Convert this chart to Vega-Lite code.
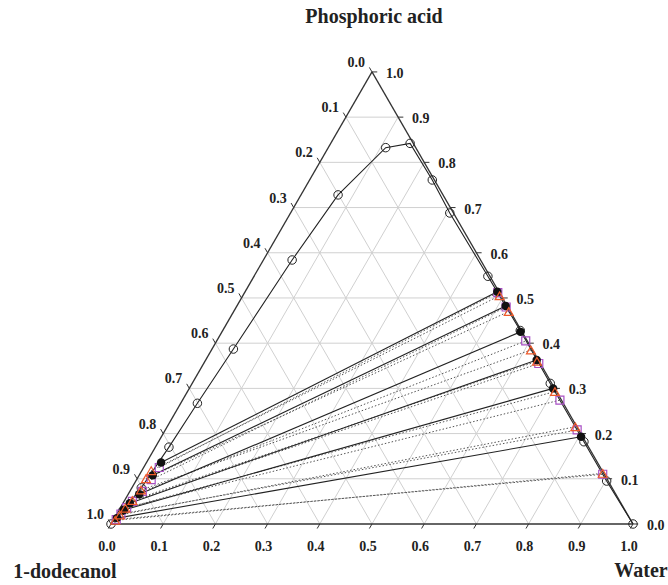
{
  "$schema": "https://vega.github.io/schema/vega-lite/v6.json",
  "width": 668,
  "height": 585,
  "autosize": "none",
  "padding": 0,
  "background": "white",
  "config": {"view": {"stroke": null}},
  "datasets": {
    "grid": [
      {"w1": 0, "a1": 0.1, "w2": 0.9, "a2": 0.1},
      {"w1": 0, "a1": 0.2, "w2": 0.8, "a2": 0.2},
      {"w1": 0, "a1": 0.3, "w2": 0.7, "a2": 0.3},
      {"w1": 0, "a1": 0.4, "w2": 0.6, "a2": 0.4},
      {"w1": 0, "a1": 0.5, "w2": 0.5, "a2": 0.5},
      {"w1": 0, "a1": 0.6, "w2": 0.4, "a2": 0.6},
      {"w1": 0, "a1": 0.7, "w2": 0.3, "a2": 0.7},
      {"w1": 0, "a1": 0.8, "w2": 0.2, "a2": 0.8},
      {"w1": 0, "a1": 0.9, "w2": 0.1, "a2": 0.9},
      {"w1": 0.1, "a1": 0, "w2": 0.1, "a2": 0.9},
      {"w1": 0.2, "a1": 0, "w2": 0.2, "a2": 0.8},
      {"w1": 0.3, "a1": 0, "w2": 0.3, "a2": 0.7},
      {"w1": 0.4, "a1": 0, "w2": 0.4, "a2": 0.6},
      {"w1": 0.5, "a1": 0, "w2": 0.5, "a2": 0.5},
      {"w1": 0.6, "a1": 0, "w2": 0.6, "a2": 0.4},
      {"w1": 0.7, "a1": 0, "w2": 0.7, "a2": 0.3},
      {"w1": 0.8, "a1": 0, "w2": 0.8, "a2": 0.2},
      {"w1": 0.9, "a1": 0, "w2": 0.9, "a2": 0.1},
      {"w1": 0.9, "a1": 0, "w2": 0, "a2": 0.9},
      {"w1": 0.8, "a1": 0, "w2": 0, "a2": 0.8},
      {"w1": 0.7, "a1": 0, "w2": 0, "a2": 0.7},
      {"w1": 0.6, "a1": 0, "w2": 0, "a2": 0.6},
      {"w1": 0.5, "a1": 0, "w2": 0, "a2": 0.5},
      {"w1": 0.4, "a1": 0, "w2": 0, "a2": 0.4},
      {"w1": 0.3, "a1": 0, "w2": 0, "a2": 0.3},
      {"w1": 0.2, "a1": 0, "w2": 0, "a2": 0.2},
      {"w1": 0.1, "a1": 0, "w2": 0, "a2": 0.1}
    ],
    "edges": [
      {"w1": 0, "a1": 0, "w2": 1, "a2": 0},
      {"w1": 1, "a1": 0, "w2": 0, "a2": 1},
      {"w1": 0, "a1": 1, "w2": 0, "a2": 0}
    ],
    "binodal": [
      {"o": 0, "w": 0.0, "a": 0.0},
      {"o": 1, "w": 0.008, "a": 0.03},
      {"o": 2, "w": 0.018, "a": 0.08},
      {"o": 3, "w": 0.026, "a": 0.170},
      {"o": 4, "w": 0.032, "a": 0.267},
      {"o": 5, "w": 0.041, "a": 0.387},
      {"o": 6, "w": 0.055, "a": 0.584},
      {"o": 7, "w": 0.071, "a": 0.728},
      {"o": 8, "w": 0.110, "a": 0.8325},
      {"o": 9, "w": 0.152, "a": 0.842},
      {"o": 10, "w": 0.235, "a": 0.761},
      {"o": 11, "w": 0.305, "a": 0.688},
      {"o": 12, "w": 0.448, "a": 0.548},
      {"o": 13, "w": 0.570, "a": 0.428},
      {"o": 14, "w": 0.686, "a": 0.311},
      {"o": 15, "w": 0.815, "a": 0.182},
      {"o": 16, "w": 0.902, "a": 0.095},
      {"o": 17, "w": 1.0, "a": 0.0}
    ],
    "exp": [
      {"w1": 0.028, "a1": 0.136, "w2": 0.483, "a2": 0.514},
      {"w1": 0.026, "a1": 0.108, "w2": 0.515, "a2": 0.482},
      {"w1": 0.021, "a1": 0.066, "w2": 0.572, "a2": 0.425},
      {"w1": 0.013, "a1": 0.046, "w2": 0.634, "a2": 0.363},
      {"w1": 0.009, "a1": 0.031, "w2": 0.697, "a2": 0.300},
      {"w1": 0.005, "a1": 0.013, "w2": 0.804, "a2": 0.193}
    ],
    "tri": [
      {"w1": 0.018, "a1": 0.118, "w2": 0.492, "a2": 0.505},
      {"w1": 0.017, "a1": 0.100, "w2": 0.527, "a2": 0.470},
      {"w1": 0.020, "a1": 0.075, "w2": 0.612, "a2": 0.385},
      {"w1": 0.015, "a1": 0.052, "w2": 0.636, "a2": 0.360},
      {"w1": 0.010, "a1": 0.035, "w2": 0.704, "a2": 0.293},
      {"w1": 0.007, "a1": 0.020, "w2": 0.782, "a2": 0.215},
      {"w1": 0.004, "a1": 0.008, "w2": 0.886, "a2": 0.112}
    ],
    "sq": [
      {"w1": 0.030, "a1": 0.125, "w2": 0.485, "a2": 0.512},
      {"w1": 0.028, "a1": 0.098, "w2": 0.517, "a2": 0.480},
      {"w1": 0.024, "a1": 0.072, "w2": 0.592, "a2": 0.405},
      {"w1": 0.016, "a1": 0.050, "w2": 0.642, "a2": 0.355},
      {"w1": 0.012, "a1": 0.036, "w2": 0.723, "a2": 0.274},
      {"w1": 0.008, "a1": 0.022, "w2": 0.789, "a2": 0.208},
      {"w1": 0.005, "a1": 0.010, "w2": 0.887, "a2": 0.110}
    ],
    "bottomLabels": [
      {"w": 0, "a": 0, "t": "0.0"}, {"w": 0.1, "a": 0, "t": "0.1"}, {"w": 0.2, "a": 0, "t": "0.2"},
      {"w": 0.3, "a": 0, "t": "0.3"}, {"w": 0.4, "a": 0, "t": "0.4"}, {"w": 0.5, "a": 0, "t": "0.5"},
      {"w": 0.6, "a": 0, "t": "0.6"}, {"w": 0.7, "a": 0, "t": "0.7"}, {"w": 0.8, "a": 0, "t": "0.8"},
      {"w": 0.9, "a": 0, "t": "0.9"}, {"w": 1.0, "a": 0, "t": "1.0"}
    ],
    "rightLabels": [
      {"w": 1.0, "a": 0, "t": "0.0"}, {"w": 0.9, "a": 0.1, "t": "0.1"}, {"w": 0.8, "a": 0.2, "t": "0.2"},
      {"w": 0.7, "a": 0.3, "t": "0.3"}, {"w": 0.6, "a": 0.4, "t": "0.4"}, {"w": 0.5, "a": 0.5, "t": "0.5"},
      {"w": 0.4, "a": 0.6, "t": "0.6"}, {"w": 0.3, "a": 0.7, "t": "0.7"}, {"w": 0.2, "a": 0.8, "t": "0.8"},
      {"w": 0.1, "a": 0.9, "t": "0.9"}, {"w": 0.0, "a": 1.0, "t": "1.0"}
    ],
    "leftLabels": [
      {"w": 0, "a": 1.0, "t": "0.0"}, {"w": 0, "a": 0.9, "t": "0.1"}, {"w": 0, "a": 0.8, "t": "0.2"},
      {"w": 0, "a": 0.7, "t": "0.3"}, {"w": 0, "a": 0.6, "t": "0.4"}, {"w": 0, "a": 0.5, "t": "0.5"},
      {"w": 0, "a": 0.4, "t": "0.6"}, {"w": 0, "a": 0.3, "t": "0.7"}, {"w": 0, "a": 0.2, "t": "0.8"},
      {"w": 0, "a": 0.1, "t": "0.9"}, {"w": 0, "a": 0.0, "t": "1.0"}
    ],
    "topTitle": [{"w": 0, "a": 1, "t": "Phosphoric acid"}],
    "leftTitle": [{"w": 0, "a": 0, "t": "1-dodecanol"}],
    "rightTitle": [{"w": 1, "a": 0, "t": "Water"}]
  },
  "layer": [
    {
      "data": {"name": "grid"},
      "transform": [
        {"calculate": "datum.w1 + datum.a1/2", "as": "x1"},
        {"calculate": "datum.a1*0.8660254", "as": "y1"},
        {"calculate": "datum.w2 + datum.a2/2", "as": "x2"},
        {"calculate": "datum.a2*0.8660254", "as": "y2"}
      ],
      "mark": {"type": "rule", "color": "#d0d0d0", "strokeWidth": 1},
      "encoding": {
        "x": {"field": "x1", "type": "quantitative", "scale": {"domain": [-0.21264, 1.06705], "nice": false, "zero": false}, "axis": null},
        "y": {"field": "y1", "type": "quantitative", "scale": {"domain": [-0.11686, 1.00383], "nice": false, "zero": false}, "axis": null},
        "x2": {"field": "x2"},
        "y2": {"field": "y2"}
      }
    },
    {
      "data": {"name": "bottomLabels"},
      "transform": [
        {"calculate": "datum.w + datum.a/2", "as": "x1"},
        {"calculate": "datum.a*0.8660254", "as": "y1"},
        {"calculate": "datum.w + (-0.01)/2", "as": "x2"},
        {"calculate": "(-0.01)*0.8660254", "as": "y2"}
      ],
      "mark": {"type": "rule", "color": "#333333", "strokeWidth": 1},
      "encoding": {
        "x": {"field": "x1", "type": "quantitative"},
        "y": {"field": "y1", "type": "quantitative"},
        "x2": {"field": "x2"},
        "y2": {"field": "y2"}
      }
    },
    {
      "data": {"name": "rightLabels"},
      "transform": [
        {"calculate": "datum.w + datum.a/2", "as": "x1"},
        {"calculate": "datum.a*0.8660254", "as": "y1"},
        {"calculate": "datum.w + 0.01 + datum.a/2", "as": "x2"},
        {"calculate": "datum.a*0.8660254", "as": "y2"}
      ],
      "mark": {"type": "rule", "color": "#333333", "strokeWidth": 1},
      "encoding": {
        "x": {"field": "x1", "type": "quantitative"},
        "y": {"field": "y1", "type": "quantitative"},
        "x2": {"field": "x2"},
        "y2": {"field": "y2"}
      }
    },
    {
      "data": {"name": "leftLabels"},
      "transform": [
        {"calculate": "datum.w + datum.a/2", "as": "x1"},
        {"calculate": "datum.a*0.8660254", "as": "y1"},
        {"calculate": "-0.01 + (datum.a + 0.01)/2", "as": "x2"},
        {"calculate": "(datum.a + 0.01)*0.8660254", "as": "y2"}
      ],
      "mark": {"type": "rule", "color": "#333333", "strokeWidth": 1},
      "encoding": {
        "x": {"field": "x1", "type": "quantitative"},
        "y": {"field": "y1", "type": "quantitative"},
        "x2": {"field": "x2"},
        "y2": {"field": "y2"}
      }
    },
    {
      "data": {"name": "tri"},
      "transform": [
        {"calculate": "datum.w1 + datum.a1/2", "as": "x1"},
        {"calculate": "datum.a1*0.8660254", "as": "y1"},
        {"calculate": "datum.w2 + datum.a2/2", "as": "x2"},
        {"calculate": "datum.a2*0.8660254", "as": "y2"}
      ],
      "mark": {"type": "rule", "color": "#555555", "strokeWidth": 1, "strokeDash": [1.5, 2]},
      "encoding": {
        "x": {"field": "x1", "type": "quantitative"},
        "y": {"field": "y1", "type": "quantitative"},
        "x2": {"field": "x2"},
        "y2": {"field": "y2"}
      }
    },
    {
      "data": {"name": "sq"},
      "transform": [
        {"calculate": "datum.w1 + datum.a1/2", "as": "x1"},
        {"calculate": "datum.a1*0.8660254", "as": "y1"},
        {"calculate": "datum.w2 + datum.a2/2", "as": "x2"},
        {"calculate": "datum.a2*0.8660254", "as": "y2"}
      ],
      "mark": {"type": "rule", "color": "#555555", "strokeWidth": 1, "strokeDash": [1.5, 2]},
      "encoding": {
        "x": {"field": "x1", "type": "quantitative"},
        "y": {"field": "y1", "type": "quantitative"},
        "x2": {"field": "x2"},
        "y2": {"field": "y2"}
      }
    },
    {
      "data": {"name": "edges"},
      "transform": [
        {"calculate": "datum.w1 + datum.a1/2", "as": "x1"},
        {"calculate": "datum.a1*0.8660254", "as": "y1"},
        {"calculate": "datum.w2 + datum.a2/2", "as": "x2"},
        {"calculate": "datum.a2*0.8660254", "as": "y2"}
      ],
      "mark": {"type": "rule", "color": "#333333", "strokeWidth": 1.3},
      "encoding": {
        "x": {"field": "x1", "type": "quantitative"},
        "y": {"field": "y1", "type": "quantitative"},
        "x2": {"field": "x2"},
        "y2": {"field": "y2"}
      }
    },
    {
      "data": {"name": "exp"},
      "transform": [
        {"calculate": "datum.w1 + datum.a1/2", "as": "x1"},
        {"calculate": "datum.a1*0.8660254", "as": "y1"},
        {"calculate": "datum.w2 + datum.a2/2", "as": "x2"},
        {"calculate": "datum.a2*0.8660254", "as": "y2"}
      ],
      "mark": {"type": "rule", "color": "#222222", "strokeWidth": 1.1},
      "encoding": {
        "x": {"field": "x1", "type": "quantitative"},
        "y": {"field": "y1", "type": "quantitative"},
        "x2": {"field": "x2"},
        "y2": {"field": "y2"}
      }
    },
    {
      "data": {"name": "binodal"},
      "transform": [
        {"calculate": "datum.w + datum.a/2", "as": "x"},
        {"calculate": "datum.a*0.8660254", "as": "y"}
      ],
      "mark": {"type": "line", "color": "#222222", "strokeWidth": 1.1},
      "encoding": {
        "x": {"field": "x", "type": "quantitative"},
        "y": {"field": "y", "type": "quantitative"},
        "order": {"field": "o", "type": "quantitative"}
      }
    },
    {
      "data": {"name": "binodal"},
      "transform": [
        {"calculate": "datum.w + datum.a/2", "as": "x"},
        {"calculate": "datum.a*0.8660254", "as": "y"}
      ],
      "mark": {"type": "point", "shape": "circle", "filled": false, "color": "#222222", "size": 72, "strokeWidth": 1, "opacity": 1},
      "encoding": {
        "x": {"field": "x", "type": "quantitative"},
        "y": {"field": "y", "type": "quantitative"}
      }
    },
    {
      "data": {"name": "sq"},
      "transform": [
        {"fold": ["1", "2"], "as": ["end", "v"]},
        {"calculate": "datum.end == '1' ? datum.w1 + datum.a1/2 : datum.w2 + datum.a2/2", "as": "x"},
        {"calculate": "(datum.end == '1' ? datum.a1 : datum.a2)*0.8660254", "as": "y"}
      ],
      "mark": {"type": "point", "shape": "square", "filled": false, "color": "#a84fc4", "size": 64, "strokeWidth": 1.2, "opacity": 1},
      "encoding": {
        "x": {"field": "x", "type": "quantitative"},
        "y": {"field": "y", "type": "quantitative"}
      }
    },
    {
      "data": {"name": "exp"},
      "transform": [
        {"fold": ["1", "2"], "as": ["end", "v"]},
        {"calculate": "datum.end == '1' ? datum.w1 + datum.a1/2 : datum.w2 + datum.a2/2", "as": "x"},
        {"calculate": "(datum.end == '1' ? datum.a1 : datum.a2)*0.8660254", "as": "y"}
      ],
      "mark": {"type": "point", "shape": "circle", "filled": true, "color": "#111111", "size": 72, "opacity": 1},
      "encoding": {
        "x": {"field": "x", "type": "quantitative"},
        "y": {"field": "y", "type": "quantitative"}
      }
    },
    {
      "data": {"name": "tri"},
      "transform": [
        {"fold": ["1", "2"], "as": ["end", "v"]},
        {"calculate": "datum.end == '1' ? datum.w1 + datum.a1/2 : datum.w2 + datum.a2/2", "as": "x"},
        {"calculate": "(datum.end == '1' ? datum.a1 : datum.a2)*0.8660254", "as": "y"}
      ],
      "mark": {"type": "point", "shape": "triangle-up", "filled": false, "color": "#ee5a2a", "size": 80, "strokeWidth": 1.2, "opacity": 1},
      "encoding": {
        "x": {"field": "x", "type": "quantitative"},
        "y": {"field": "y", "type": "quantitative"}
      }
    },
    {
      "data": {"name": "bottomLabels"},
      "transform": [
        {"calculate": "datum.w + datum.a/2", "as": "x"},
        {"calculate": "datum.a*0.8660254", "as": "y"}
      ],
      "mark": {"type": "text", "font": "Liberation Serif", "fontWeight": "bold", "fontSize": 14, "color": "#222222", "align": "center", "baseline": "middle", "dy": 23, "dx": -4},
      "encoding": {
        "x": {"field": "x", "type": "quantitative"},
        "y": {"field": "y", "type": "quantitative"},
        "text": {"field": "t"}
      }
    },
    {
      "data": {"name": "rightLabels"},
      "transform": [
        {"calculate": "datum.w + datum.a/2", "as": "x"},
        {"calculate": "datum.a*0.8660254", "as": "y"}
      ],
      "mark": {"type": "text", "font": "Liberation Serif", "fontWeight": "bold", "fontSize": 14, "color": "#222222", "align": "left", "baseline": "middle", "dx": 14, "dy": 2},
      "encoding": {
        "x": {"field": "x", "type": "quantitative"},
        "y": {"field": "y", "type": "quantitative"},
        "text": {"field": "t"}
      }
    },
    {
      "data": {"name": "leftLabels"},
      "transform": [
        {"calculate": "datum.w + datum.a/2", "as": "x"},
        {"calculate": "datum.a*0.8660254", "as": "y"}
      ],
      "mark": {"type": "text", "font": "Liberation Serif", "fontWeight": "bold", "fontSize": 14, "color": "#222222", "align": "right", "baseline": "middle", "dx": -7, "dy": -9},
      "encoding": {
        "x": {"field": "x", "type": "quantitative"},
        "y": {"field": "y", "type": "quantitative"},
        "text": {"field": "t"}
      }
    },
    {
      "data": {"name": "topTitle"},
      "transform": [
        {"calculate": "datum.w + datum.a/2", "as": "x"},
        {"calculate": "datum.a*0.8660254", "as": "y"}
      ],
      "mark": {"type": "text", "font": "Liberation Serif", "fontWeight": "bold", "fontSize": 20, "color": "#222222", "align": "center", "baseline": "middle", "dy": -55, "dx": 2},
      "encoding": {
        "x": {"field": "x", "type": "quantitative"},
        "y": {"field": "y", "type": "quantitative"},
        "text": {"field": "t"}
      }
    },
    {
      "data": {"name": "leftTitle"},
      "transform": [
        {"calculate": "datum.w + datum.a/2", "as": "x"},
        {"calculate": "datum.a*0.8660254", "as": "y"}
      ],
      "mark": {"type": "text", "font": "Liberation Serif", "fontWeight": "bold", "fontSize": 20, "color": "#222222", "align": "center", "baseline": "middle", "dx": -46, "dy": 48},
      "encoding": {
        "x": {"field": "x", "type": "quantitative"},
        "y": {"field": "y", "type": "quantitative"},
        "text": {"field": "t"}
      }
    },
    {
      "data": {"name": "rightTitle"},
      "transform": [
        {"calculate": "datum.w + datum.a/2", "as": "x"},
        {"calculate": "datum.a*0.8660254", "as": "y"}
      ],
      "mark": {"type": "text", "font": "Liberation Serif", "fontWeight": "bold", "fontSize": 20, "color": "#222222", "align": "center", "baseline": "middle", "dx": 8, "dy": 47},
      "encoding": {
        "x": {"field": "x", "type": "quantitative"},
        "y": {"field": "y", "type": "quantitative"},
        "text": {"field": "t"}
      }
    }
  ]
}
